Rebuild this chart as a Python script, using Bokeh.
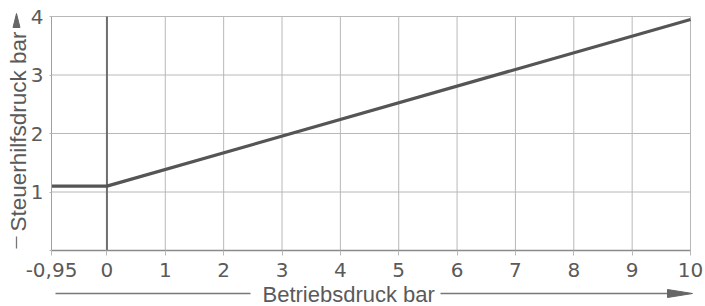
import math
from bokeh.plotting import figure
from bokeh.models import Label, FixedTicker
from bokeh.embed import file_html
from bokeh.resources import INLINE

# ---- data ----
betriebsdruck = [-0.95, 0.0, 10.0]
steuerhilfsdruck = [1.1, 1.1, 3.95]
x_ticks = [-0.95, 0, 1, 2, 3, 4, 5, 6, 7, 8, 9, 10]
x_tick_labels = {-0.95: "-0,95"}
y_ticks = [0, 1, 2, 3, 4]
y_tick_labels = {0: ""}
x_label = "Betriebsdruck bar"
y_label = "Steuerhilfsdruck bar"

# ---- layout (pixels) ----
W, H = 705, 306
LEFT, RIGHT, TOP, BOTTOM = 51, 690, 16, 250   # chart area on the page
X0, X1 = x_ticks[0], x_ticks[-1]
Y0, Y1 = y_ticks[0], y_ticks[-1]
px_x = (RIGHT - LEFT) / (X1 - X0)
px_y = (BOTTOM - TOP) / (Y1 - Y0)
x_start = X0 - LEFT / px_x
x_end = X1 + (W - RIGHT) / px_x
y_start = Y0 - (H - BOTTOM) / px_y
y_end = Y1 + TOP / px_y

def dx(px):  # page pixel -> data x
    return x_start + px / px_x

def dy(py):  # page pixel -> data y
    return y_end - py / px_y

TICK_FONT = "DejaVu Sans"
FONT = "Liberation Sans"
TXT = "#5a5a5a"
GRID = "#b8b8b8"
DECO = "#777777"

p = figure(width=W, height=H, x_range=(x_start, x_end), y_range=(y_start, y_end),
           output_backend="svg", toolbar_location=None,
           min_border=0, min_border_left=0, min_border_right=0,
           min_border_top=0, min_border_bottom=0)
p.background_fill_color = "white"
p.border_fill_color = "white"
p.outline_line_color = None
p.grid.visible = False

# axes drawn at the chart's edges
p.xaxis.fixed_location = Y0
p.xaxis.bounds = (X0, X1)
p.yaxis.fixed_location = X0
p.yaxis.bounds = (Y0, Y1)
p.xaxis.ticker = FixedTicker(ticks=x_ticks)
p.xaxis.major_label_overrides = x_tick_labels
p.yaxis.ticker = FixedTicker(ticks=y_ticks)
p.yaxis.major_label_overrides = y_tick_labels
for ax in (p.xaxis, p.yaxis):
    ax.major_label_text_font = TICK_FONT
    ax.major_label_text_font_size = "20px"
    ax.major_label_text_color = TXT
    ax.minor_tick_line_color = None
    ax.major_tick_in = 0
    ax.major_tick_line_color = GRID
p.xaxis.major_tick_out = 5
p.xaxis.major_label_standoff = 7
p.yaxis.major_tick_out = 2
p.yaxis.major_label_standoff = 6
p.xaxis.axis_line_color = "#8a8a8a"
p.xaxis.axis_line_width = 1.5
p.yaxis.axis_line_color = "#a0a0a0"

# grid lines at the tick positions
p.segment(x0=x_ticks, y0=Y0, x1=x_ticks, y1=Y1, line_color=GRID, line_width=1)
p.segment(x0=X0, y0=y_ticks, x1=X1, y1=y_ticks, line_color=GRID, line_width=1)
p.segment(x0=[0], y0=Y0, x1=[0], y1=Y1, line_color="#6e6e6e", line_width=2)

# characteristic curve
p.line(betriebsdruck, steuerhilfsdruck, line_color="#555555", line_width=3.2)

# axis titles
p.add_layout(Label(x=dx(262), y=dy(293.5), text=x_label,
                   text_font=FONT, text_font_size="22px", text_color=TXT,
                   text_align="left", text_baseline="middle"))
p.add_layout(Label(x=dx(17.5), y=dy(131), text=y_label, angle=math.pi / 2,
                   text_font=FONT, text_font_size="22.5px", text_color=TXT,
                   text_align="center", text_baseline="middle"))

# decorative title lines and arrows
p.line([dx(55), dx(250)], [dy(293), dy(293)], line_color=DECO, line_width=1.3)
p.line([dx(440), dx(670)], [dy(293), dy(293)], line_color=DECO, line_width=1.3)
p.patch([dx(667), dx(692), dx(667)], [dy(289), dy(293), dy(297)],
        fill_color="#666666", line_color="#666666")
p.line([dx(16), dx(16)], [dy(236), dy(248)], line_color=DECO, line_width=1.3)
p.patch([dx(12.5), dx(16), dx(19.5)], [dy(27), dy(13), dy(27)],
        fill_color="#666666", line_color="#666666")

open("out.html", "w").write(file_html(p, INLINE))
